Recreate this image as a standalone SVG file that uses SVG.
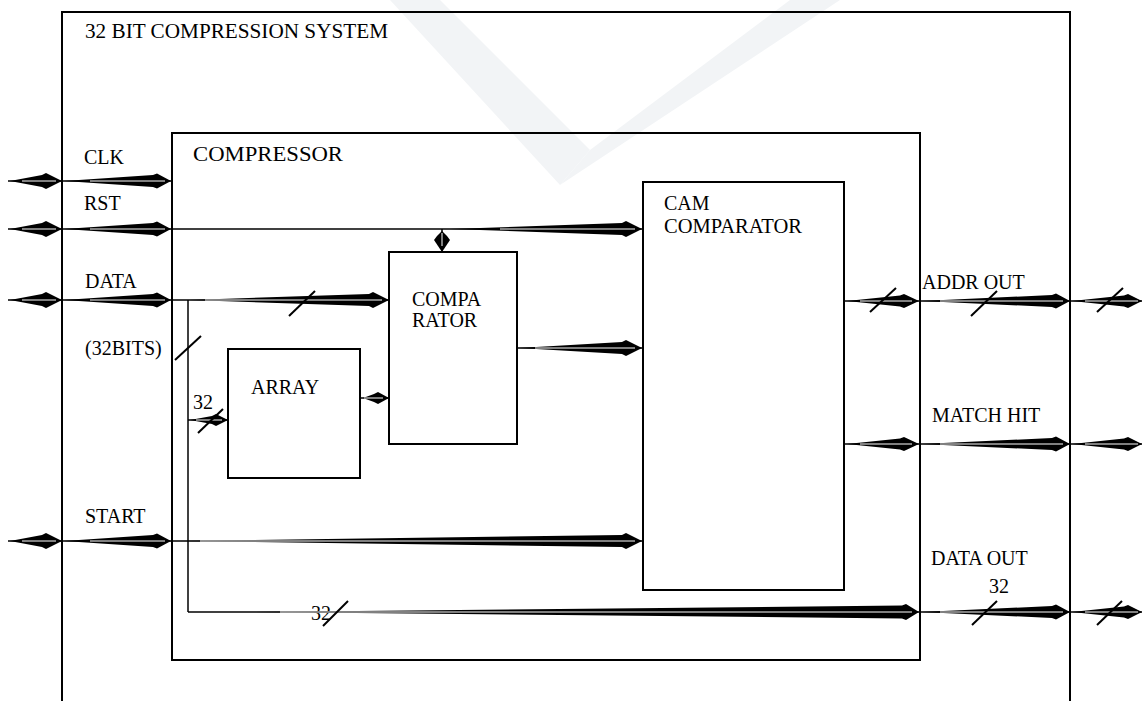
<svg xmlns="http://www.w3.org/2000/svg" width="1142" height="701" viewBox="0 0 1142 701">
<style>
  .t { font-family: "Liberation Serif", "Times New Roman", serif; font-size: 20px; fill: #000; }
  .box { fill: none; stroke: #000; stroke-width: 2; }
  .ln { stroke: #000; stroke-width: 1.5; fill: none; }
  .w { fill: #000; stroke: none; }
  .hl { stroke: #fff; stroke-width: 1; }
  .sl { stroke: #000; stroke-width: 2; }
  .wm { fill: #f2f4f6; stroke: none; }
</style>
<rect width="1142" height="701" fill="#fff"/>
<g id="watermark">
  <polygon class="wm" points="390,0 440,0 590,150 560,185"/>
  <polygon class="wm" points="560,185 590,150 790,0 840,0"/>
</g>
<g id="system">
  <path class="box" d="M62,701 V12 H1070 V701"/>
  <text class="t" x="85" y="38" textLength="303" lengthAdjust="spacingAndGlyphs">32 BIT COMPRESSION SYSTEM</text>
</g>
<g id="compressor">
  <rect class="box" x="172" y="133" width="748" height="527"/>
  <text class="t" x="193" y="161" textLength="150" lengthAdjust="spacingAndGlyphs">COMPRESSOR</text>
</g>
<g id="cam">
  <rect class="box" x="643" y="182" width="201" height="408"/>
  <text class="t" x="664" y="210">CAM</text>
  <text class="t" x="664" y="233" textLength="138" lengthAdjust="spacingAndGlyphs">COMPARATOR</text>
</g>
<g id="comparator">
  <rect class="box" x="389" y="252" width="128" height="192"/>
  <text class="t" x="412" y="306">COMPA</text>
  <text class="t" x="412" y="327">RATOR</text>
</g>
<g id="array">
  <rect class="box" x="228" y="349" width="132" height="129"/>
  <text class="t" x="251" y="394">ARRAY</text>
</g>
<g id="labels">
  <text class="t" x="84" y="164">CLK</text>
  <text class="t" x="84" y="210">RST</text>
  <text class="t" x="85" y="288">DATA</text>
  <text class="t" x="85" y="355">(32BITS)</text>
  <text class="t" x="85" y="523">START</text>
  <text class="t" x="193" y="409">32</text>
  <text class="t" x="311" y="620">32</text>
  <text class="t" x="922" y="289">ADDR OUT</text>
  <text class="t" x="932" y="422">MATCH HIT</text>
  <text class="t" x="931" y="565">DATA OUT</text>
  <text class="t" x="989" y="593">32</text>
</g>
<g id="connectors">
  <g>
    <line class="ln" x1="8" y1="181" x2="62" y2="181"/>
    <polygon class="w" points="10,181 42,175 46,173 62,181 46,189 42,187"/>
    <line class="hl" x1="22" y1="181" x2="56" y2="181"/>
    <line class="ln" x1="8" y1="229" x2="62" y2="229"/>
    <polygon class="w" points="10,229 42,223 46,221 62,229 46,237 42,235"/>
    <line class="hl" x1="22" y1="229" x2="56" y2="229"/>
    <line class="ln" x1="8" y1="300" x2="62" y2="300"/>
    <polygon class="w" points="10,300 42,294 46,292 62,300 46,308 42,306"/>
    <line class="hl" x1="22" y1="300" x2="56" y2="300"/>
    <line class="ln" x1="8" y1="541" x2="62" y2="541"/>
    <polygon class="w" points="10,541 42,535 46,533 62,541 46,549 42,547"/>
    <line class="hl" x1="22" y1="541" x2="56" y2="541"/>
  </g>
  <line class="ln" x1="62" y1="181" x2="172" y2="181"/>
  <polygon class="w" points="64,181 153,175 157,173.5 171,181 157,188.5 153,187"/>
  <line class="hl" x1="90" y1="181" x2="165" y2="181"/>
  <line class="ln" x1="62" y1="229" x2="172" y2="229"/>
  <polygon class="w" points="64,229 153,223 157,221.5 171,229 157,236.5 153,235"/>
  <line class="hl" x1="90" y1="229" x2="165" y2="229"/>
  <line class="ln" x1="172" y1="229" x2="642" y2="229"/>
  <polygon class="w" points="450,229 622,223 626,221 642,229 626,237 622,235"/>
  <line class="hl" x1="500" y1="229" x2="635" y2="229"/>
  <line class="ln" x1="442" y1="229" x2="442" y2="252"/>
  <polygon class="w" points="442,252 434,240 437,236 442,231 447,236 450,240"/>
  <line class="hl" x1="442" y1="233" x2="442" y2="246"/>
  <line class="ln" x1="62" y1="300" x2="172" y2="300"/>
  <polygon class="w" points="64,300 153,294 157,292.5 171,300 157,307.5 153,306"/>
  <line class="hl" x1="90" y1="300" x2="165" y2="300"/>
  <line class="ln" x1="172" y1="300" x2="389" y2="300"/>
  <polygon class="w" points="190,300 369,294 373,292 389,300 373,308 369,306"/>
  <line class="hl" x1="205" y1="300" x2="382" y2="300"/>
  <line class="sl" x1="289" y1="316" x2="315" y2="291"/>
  <line class="ln" x1="188" y1="300" x2="188" y2="612"/>
  <line class="sl" x1="175" y1="360" x2="201" y2="336"/>
  <line class="ln" x1="188" y1="420" x2="228" y2="420"/>
  <polygon class="w" points="190,420 212,416 216,414 228,420 216,426 212,424"/>
  <line class="hl" x1="196" y1="420" x2="222" y2="420"/>
  <line class="sl" x1="198" y1="433" x2="223" y2="409"/>
  <line class="ln" x1="361" y1="398" x2="389" y2="398"/>
  <polygon class="w" points="363,398 374,394 378,392 389,398 378,404 374,402"/>
  <line class="hl" x1="364" y1="398" x2="383" y2="398"/>
  <line class="ln" x1="517" y1="348" x2="642" y2="348"/>
  <polygon class="w" points="519,348 622,342 626,340 642,348 626,356 622,354"/>
  <line class="hl" x1="535" y1="348" x2="635" y2="348"/>
  <line class="ln" x1="62" y1="541" x2="172" y2="541"/>
  <polygon class="w" points="64,541 153,535 157,533.5 171,541 157,548.5 153,547"/>
  <line class="hl" x1="90" y1="541" x2="165" y2="541"/>
  <line class="ln" x1="172" y1="541" x2="642" y2="541"/>
  <polygon class="w" points="180,541 622,535 626,533 642,541 626,549 622,547"/>
  <line class="hl" x1="200" y1="541" x2="635" y2="541"/>
  <line class="ln" x1="188" y1="612" x2="920" y2="612"/>
  <polygon class="w" points="250,612 902,605.5 906,604 919,612 906,620 902,618.5"/>
  <line class="hl" x1="280" y1="612" x2="912" y2="612"/>
  <line class="sl" x1="323" y1="626" x2="348" y2="601"/>
  <line class="ln" x1="845" y1="301" x2="920" y2="301"/>
  <polygon class="w" points="847,301 900,295.5 904,294 919,301 904,308 900,306.5"/>
  <line class="hl" x1="860" y1="301" x2="912" y2="301"/>
  <line class="sl" x1="870" y1="312" x2="896" y2="288"/>
  <line class="ln" x1="920" y1="301" x2="1070" y2="301"/>
  <polygon class="w" points="922,301 1052,295 1056,293.5 1070,301 1056,308.5 1052,307"/>
  <line class="hl" x1="940" y1="301" x2="1063" y2="301"/>
  <line class="sl" x1="971" y1="316" x2="997" y2="291"/>
  <line class="ln" x1="1070" y1="301" x2="1142" y2="301"/>
  <polygon class="w" points="1072,301 1124,295.5 1128,294 1142,301 1128,308 1124,306.5"/>
  <line class="hl" x1="1085" y1="301" x2="1138" y2="301"/>
  <line class="sl" x1="1097" y1="312" x2="1123" y2="288"/>
  <line class="ln" x1="845" y1="444" x2="920" y2="444"/>
  <polygon class="w" points="847,444 900,438.5 904,437 919,444 904,451 900,449.5"/>
  <line class="hl" x1="860" y1="444" x2="912" y2="444"/>
  <line class="ln" x1="920" y1="444" x2="1070" y2="444"/>
  <polygon class="w" points="922,444 1052,438 1056,436.5 1070,444 1056,451.5 1052,450"/>
  <line class="hl" x1="940" y1="444" x2="1063" y2="444"/>
  <line class="ln" x1="1070" y1="444" x2="1142" y2="444"/>
  <polygon class="w" points="1072,444 1124,438.5 1128,437 1142,444 1128,451 1124,449.5"/>
  <line class="hl" x1="1085" y1="444" x2="1138" y2="444"/>
  <line class="ln" x1="920" y1="612" x2="1070" y2="612"/>
  <polygon class="w" points="922,612 1052,606 1056,604.5 1070,612 1056,619.5 1052,618"/>
  <line class="hl" x1="940" y1="612" x2="1063" y2="612"/>
  <line class="sl" x1="972" y1="625" x2="997" y2="601"/>
  <line class="ln" x1="1070" y1="612" x2="1142" y2="612"/>
  <polygon class="w" points="1072,612 1124,606.5 1128,605 1142,612 1128,619 1124,617.5"/>
  <line class="hl" x1="1085" y1="612" x2="1138" y2="612"/>
  <line class="sl" x1="1097" y1="625" x2="1122" y2="601"/>
</g>
</svg>
